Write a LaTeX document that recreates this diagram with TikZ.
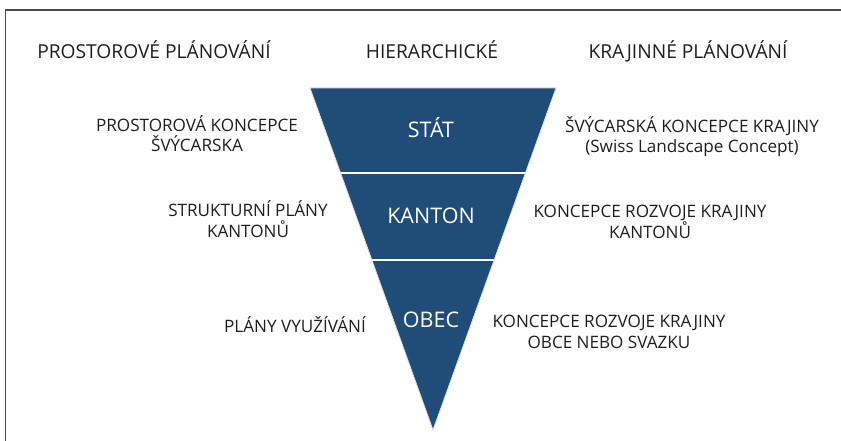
\documentclass[tikz,border=0pt]{standalone}
\usepackage{fontspec}
\setmainfont{Open Sans}
\usetikzlibrary{calc}

\definecolor{levelblue}{RGB}{31,77,120}
\definecolor{textgray}{RGB}{30,30,30}

\begin{document}
\begin{tikzpicture}[
  x=1pt,
  y=1pt,
  heading/.style={anchor=base, inner sep=0pt, font=\fontsize{19.2}{23}\selectfont, text=textgray},
  side/.style={anchor=base, align=center, inner sep=0pt, font=\fontsize{17.1}{20.5}\selectfont, text=textgray},
  level/.style={anchor=base, inner sep=0pt, font=\fontsize{21.5}{26}\selectfont, text=white},
  divider/.style={white, line width=2pt}
]
\useasboundingbox (0,0) rectangle (841,-441);
\draw[line width=1.6pt, black!70] (5.5,-441) -- (5.5,-10) -- (841,-10);

% the inverted triangle
\coordinate (tl) at (310,-88);
\coordinate (tr) at (556,-88);
\coordinate (apex) at (433,-430);
\fill[levelblue, draw=black!12, line width=0.8pt] (tl) -- (tr) -- (apex) -- cycle;
\draw[divider] ($(tl)!0.2485!(apex)$) -- ($(tr)!0.2485!(apex)$);
\draw[divider] ($(tl)!0.503!(apex)$) -- ($(tr)!0.503!(apex)$);

\node[level] (stat) at (431,-138) {STÁT};
\node[level] (kanton) at (431,-223) {KANTON};
\node[level] (obec) at (431,-327) {OBEC};

\node[heading] (spatial) at (154,-59) {PROSTOROVÉ PLÁNOVÁNÍ};
\node[heading] (hier) at (432,-59) {HIERARCHICKÉ};
\node[heading] (landscape) at (688,-59) {KRAJINNÉ PLÁNOVÁNÍ};

\node[side] (conceptch) at (197,-152) {PROSTOROVÁ KONCEPCE\\ŠVÝCARSKA};
\node[side] (structure) at (248,-237) {STRUKTURNÍ PLÁNY\\KANTONŮ};
\node[side] (landuse) at (295,-332) {PLÁNY VYUŽÍVÁNÍ};

\node[side] (swiss) at (692,-153) {ŠVÝCARSKÁ KONCEPCE KRAJINY\\(Swiss Landscape Concept)};
\node[side] (cantonal) at (650,-238) {KONCEPCE ROZVOJE KRAJINY\\KANTONŮ};
\node[side] (municipal) at (609,-348) {KONCEPCE ROZVOJE KRAJINY\\OBCE NEBO SVAZKU};
\end{tikzpicture}
\end{document}
